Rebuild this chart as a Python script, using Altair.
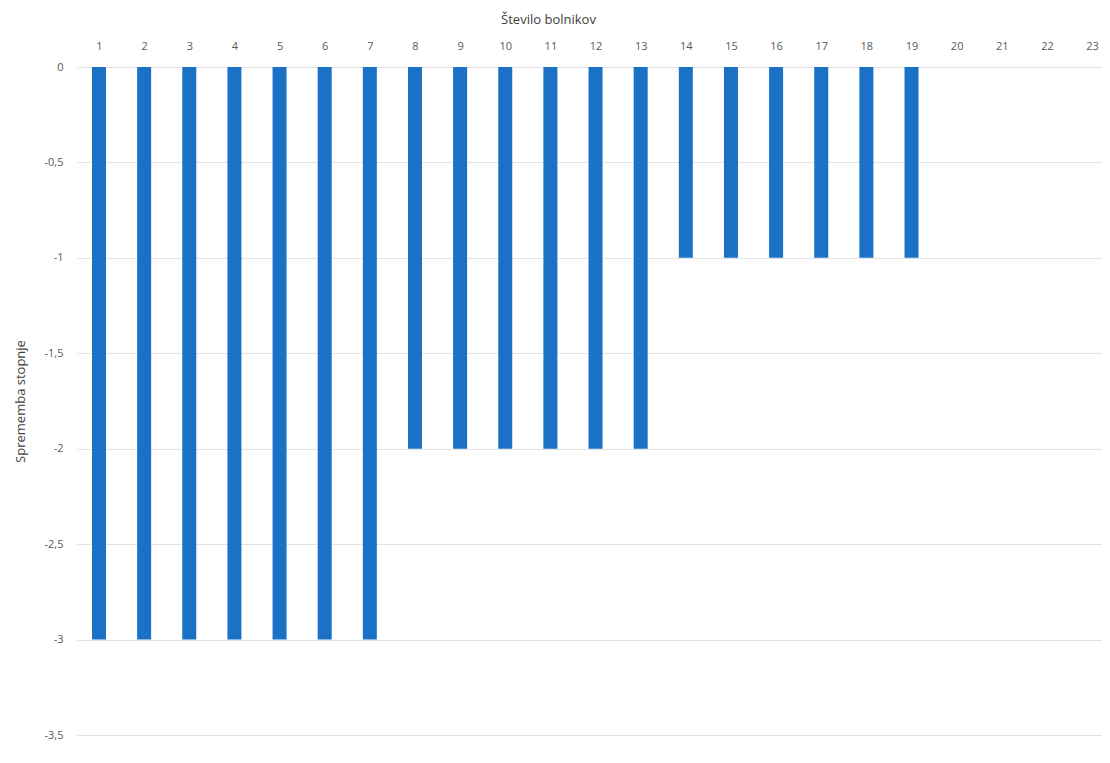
import altair as alt
import pandas as pd

patients = list(range(1, 24))
change = [-3, -3, -3, -3, -3, -3, -3,
          -2, -2, -2, -2, -2, -2,
          -1, -1, -1, -1, -1, -1,
          0, 0, 0, 0]
y_ticks = [0, -0.5, -1, -1.5, -2, -2.5, -3, -3.5]

df = pd.DataFrame({"bolnik": patients, "sprememba": change})

FONT = "Open Sans"

chart = alt.Chart(df).mark_bar(size=14, color="#1A71C6").encode(
    x=alt.X(
        "bolnik:Q",
        scale=alt.Scale(domain=[0.5126, 23.22], nice=False, zero=False, padding=0),
        axis=alt.Axis(
            orient="top", values=patients, format="d", title="Število bolnikov",
            grid=False, ticks=False, domain=False, labelPadding=16,
            labelFontSize=11, labelColor="#595959", labelFont=FONT,
            titleFont=FONT, titleFontSize=13, titleFontWeight="normal",
            titleColor="#404040", titlePadding=14, titleX=471,
        ),
    ),
    y=alt.Y(
        "sprememba:Q",
        scale=alt.Scale(domain=[-3.5, 0], nice=False, padding=0),
        axis=alt.Axis(
            values=y_ticks, title="Sprememba stopnje",
            labelExpr="replace(toString(datum.value), '.', ',')",
            grid=True, gridColor="#e3e3e3", gridWidth=1,
            ticks=False, domain=False, labelPadding=14,
            labelFontSize=11, labelColor="#595959", labelFont=FONT,
            titleFont=FONT, titleFontSize=13, titleFontWeight="normal",
            titleColor="#404040", titlePadding=17,
        ),
    ),
).properties(
    width=1025, height=668, background="white",
    autosize=alt.AutoSizeParams(type="none"),
    padding={"left": 69, "top": 59, "right": 0, "bottom": 20},
).configure_view(stroke=None)

chart.save("out.html", embed_options={"renderer": "svg", "actions": False})
